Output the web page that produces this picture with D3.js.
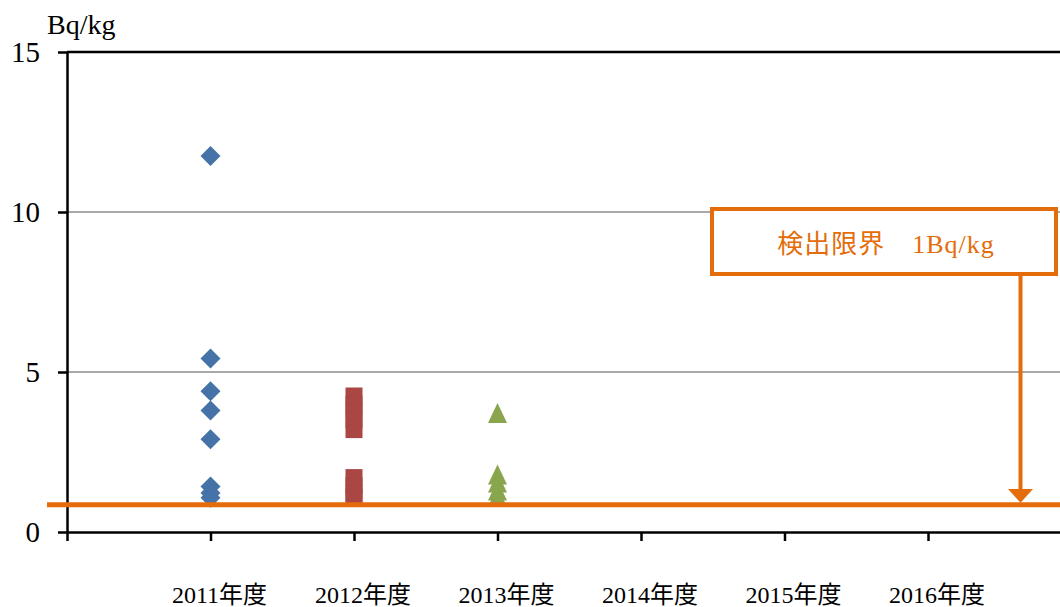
<!DOCTYPE html>
<html>
<head>
<meta charset="utf-8">
<script src="https://cdnjs.cloudflare.com/ajax/libs/d3/7.8.5/d3.min.js"></script>
<style>
  body { margin: 0; background: #fff; }
  text { font-family: "Liberation Serif", "Noto Sans CJK JP", serif; }
</style>
</head>
<body>
<svg id="chart" width="1060" height="607"></svg>
<script>
// chart data
var years = ["2011年度", "2012年度", "2013年度", "2014年度", "2015年度", "2016年度"];
var yTicks = [0, 5, 10, 15];
var values2011 = [11.75, 5.42, 4.4, 3.8, 2.9, 1.42, 1.22, 1.07];
var values2012 = [4.25, 4.0, 3.75, 3.5, 3.2, 1.7, 1.45, 1.2, 1.1];
var values2013 = [3.72, 1.8, 1.55, 1.3, 1.1];
var limitValue = 0.85;
var limitLabel = "検出限界\u30001Bq/kg";
var unitLabel = "Bq/kg";

var orange = "#E46C0A";

var svg = d3.select("#chart");

var x = d3.scaleLinear().domain([0, 7]).range([67, 67 + 7 * 143.5]);
var y = d3.scaleLinear().domain([0, 15]).range([532, 52]);

// grid lines (top one is black like a frame)
svg.append("g").selectAll("line")
    .data(yTicks.filter(function (d) { return d > 0; }))
    .enter().append("line")
    .attr("x1", x(0)).attr("x2", 1060)
    .attr("y1", function (d) { return y(d); })
    .attr("y2", function (d) { return y(d); })
    .attr("stroke", function (d) { return d == 15 ? "#000" : "#8c8c8c"; })
    .attr("stroke-width", function (d) { return d == 15 ? 2.5 : 1.5; });

// y axis
var yAxis = svg.append("g")
    .attr("transform", "translate(" + x(0) + ",0)")
    .call(d3.axisLeft(y).tickValues(yTicks).tickSize(9).tickSizeOuter(0).tickPadding(18));
yAxis.selectAll("path, line").attr("stroke", "#000").attr("stroke-width", 2.5);
yAxis.selectAll("text")
    .style("font-family", "'Liberation Serif', serif")
    .style("font-size", "29px")
    .attr("fill", "#000");

// x axis
var xAxis = svg.append("g")
    .attr("transform", "translate(0," + y(0) + ")")
    .call(d3.axisBottom(x).tickValues([0, 1, 2, 3, 4, 5, 6]).tickSize(9).tickSizeOuter(0).tickFormat(""));
xAxis.selectAll("path, line").attr("stroke", "#000").attr("stroke-width", 2.5);

svg.append("g").selectAll("text")
    .data(years)
    .enter().append("text")
    .attr("x", function (d, i) { return x(i + 1) + 9; })
    .attr("y", 603)
    .attr("text-anchor", "middle")
    .style("font-size", "24px")
    .attr("fill", "#000")
    .text(function (d) { return d; });

// unit label
svg.append("text")
    .attr("x", 47).attr("y", 34)
    .style("font-size", "28px")
    .attr("fill", "#000")
    .text(unitLabel);

// markers
var diamond = d3.symbol().type(d3.symbolSquare).size(200);
var square = d3.symbol().type(d3.symbolSquare).size(289);
var triangle = d3.symbol().type({
    draw: function (ctx, size) {
        var w = Math.sqrt(size), h = w * 1.05;
        ctx.moveTo(0, -h / 2);
        ctx.lineTo(w / 2, h / 2);
        ctx.lineTo(-w / 2, h / 2);
        ctx.closePath();
    }
}).size(361);

svg.append("g").selectAll("path")
    .data(values2011)
    .enter().append("path")
    .attr("d", diamond)
    .attr("transform", function (d) { return "translate(" + x(1) + "," + y(d) + ") rotate(45)"; })
    .attr("fill", "#4572A7");

svg.append("g").selectAll("path")
    .data(values2012)
    .enter().append("path")
    .attr("d", square)
    .attr("transform", function (d) { return "translate(" + x(2) + "," + y(d) + ")"; })
    .attr("fill", "#AA4643");

svg.append("g").selectAll("path")
    .data(values2013)
    .enter().append("path")
    .attr("d", triangle)
    .attr("transform", function (d) { return "translate(" + x(3) + "," + y(d) + ")"; })
    .attr("fill", "#89A54E");

// detection limit line
svg.append("line")
    .attr("x1", 47).attr("x2", 1060)
    .attr("y1", y(limitValue)).attr("y2", y(limitValue))
    .attr("stroke", orange).attr("stroke-width", 5);

// callout box + arrow
svg.append("rect")
    .attr("x", 712).attr("y", 209)
    .attr("width", 344).attr("height", 65)
    .attr("fill", "#fff")
    .attr("stroke", orange).attr("stroke-width", 4);

svg.append("text")
    .attr("x", 886).attr("y", 253)
    .attr("text-anchor", "middle")
    .style("font-size", "26px")
    .style("letter-spacing", "1px")
    .attr("fill", orange)
    .text(limitLabel);

svg.append("line")
    .attr("x1", 1020.5).attr("x2", 1020.5)
    .attr("y1", 276).attr("y2", 490)
    .attr("stroke", orange).attr("stroke-width", 4);

svg.append("path")
    .attr("d", "M1008,489L1033,489L1020.5," + (y(limitValue) - 2) + "Z")
    .attr("fill", orange);
</script>
</body>
</html>
